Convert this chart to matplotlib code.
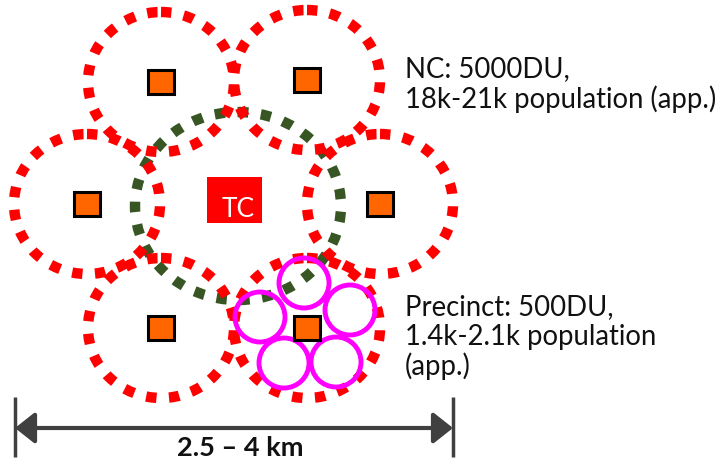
import matplotlib.pyplot as plt
from matplotlib.patches import Ellipse, Circle, Rectangle

# neighbourhood centres (NC), pixel coords of the original diagram
nc_x = [161, 307, 87, 380, 161, 307]
nc_y = [82, 80, 204, 204, 328, 328]
nc_rx = 73
nc_ry = 70

# town centre ring
tc_x, tc_y = 238, 206
tc_rx, tc_ry = 103, 94

# precinct circles around the bottom-right NC
pr_x = [304, 350, 260, 284, 336]
pr_y = [283, 310, 317, 363, 362]
pr_r = 25

nc_lines = ['NC: 5000DU,', '18k-21k population (app.)']
pr_lines = ['Precinct: 500DU,', '1.4k-2.1k population', '(app.)']
scale_label = '2.5 \u2013 4 km'
scale_from, scale_to = 15, 453

plt.rcParams['font.family'] = ['Lato', 'DejaVu Sans']

fig = plt.figure(figsize=(7.18, 4.61), dpi=100)
ax = fig.add_axes([0, 0, 1, 1])
ax.set_xlim(0, 718)
ax.set_ylim(461, 0)
ax.axis('off')

dots = (0, (1.0, 1.2))

# green town-centre ring
ax.add_patch(Ellipse((tc_x, tc_y), 2 * tc_rx, 2 * tc_ry, fill=False,
                     edgecolor='#375623', lw=7.5, linestyle=dots, zorder=2))

# red NC rings
for x, y in zip(nc_x, nc_y):
    ax.add_patch(Ellipse((x, y), 2 * nc_rx, 2 * nc_ry, fill=False,
                         edgecolor='#ff0000', lw=7.5, linestyle=dots, zorder=3))

# magenta precincts
for x, y in zip(pr_x, pr_y):
    ax.add_patch(Circle((x, y), pr_r, fill=False, edgecolor='#ff00ff',
                        lw=3.5, zorder=4))

# orange NC squares
for x, y in zip(nc_x, nc_y):
    ax.add_patch(Rectangle((x - 13, y - 12), 26, 24, facecolor='#ff6600',
                           edgecolor='black', lw=2.2, zorder=5))

# TC box
ax.add_patch(Rectangle((207, 177), 55, 46, facecolor='#ff0000',
                       edgecolor='none', zorder=5))
ax.text(238, 217, 'TC', color='white', fontsize=19, ha='center',
        va='baseline', zorder=6)

# annotations
for i, s in enumerate(nc_lines):
    ax.text(405, 77 + i * 31, s, fontsize=19.8, color='#111111', va='baseline')
for i, s in enumerate(pr_lines):
    ax.text(405, 315 + i * 30, s, fontsize=19.8, color='#111111', va='baseline')

# scale bar
ax.vlines([scale_from, scale_to], 397, 457, color='#404040', lw=2.5)
ax.annotate('', xy=(scale_to, 428), xytext=(scale_from, 428),
            arrowprops=dict(arrowstyle='<|-|>,head_length=1.2,head_width=0.95',
                            color='#404040', lw=3, shrinkA=0, shrinkB=0))
ax.text(240, 456, scale_label, fontsize=19.5, fontweight='bold',
        ha='center', va='baseline', color='#111111')

fig.savefig('out.png', dpi=100)
